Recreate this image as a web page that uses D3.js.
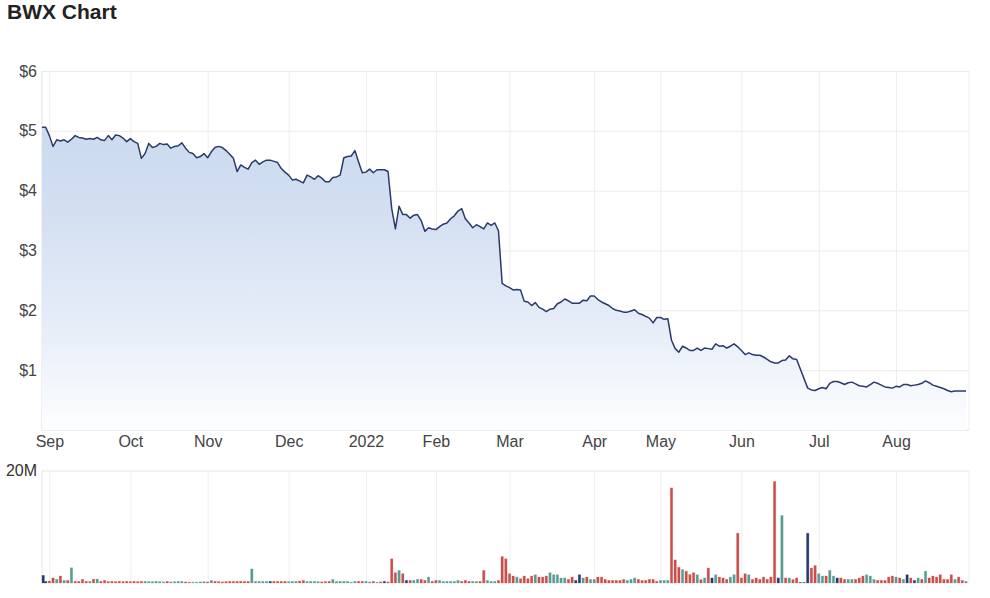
<!DOCTYPE html>
<html>
<head>
<meta charset="utf-8">
<script src="https://cdn.jsdelivr.net/npm/d3@7"></script>
<style>
  body { margin: 0; background: #fff; }
  text { font-family: "Liberation Sans", Arial, sans-serif; }
</style>
</head>
<body>
<svg id="chart" width="990" height="598"></svg>
<script>
// trading days: weekdays from 30 Aug 2021, minus ASX holidays
var startDay = "2021-08-30";
var dayCount = 252;
var holidays = ["2021-12-27", "2021-12-28", "2022-01-03", "2022-01-26", "2022-04-15", "2022-04-18", "2022-04-25", "2022-06-13"];
var monthLabels = ["Sep", "Oct", "Nov", "Dec", "2022", "Feb", "Mar", "Apr", "May", "Jun", "Jul", "Aug"];
var priceTicks = [1, 2, 3, 4, 5, 6];
var volumeTicks = [20];

// daily close ($), null = no trade (halt)
var closePrice = [
  5.06, 5.06, 4.92, 4.74, 4.85, 4.83, 4.85, 4.81, 4.86, 4.92,
  4.89, 4.88, 4.86, 4.87, 4.86, 4.89, 4.85, 4.84, 4.92, 4.85,
  4.93, 4.92, 4.88, 4.82, 4.87, 4.82, 4.79, 4.54, 4.62, 4.79,
  4.72, 4.74, 4.79, 4.77, 4.78, 4.71, 4.74, 4.75, 4.80, 4.71,
  4.64, 4.62, 4.55, 4.57, 4.62, 4.55, 4.65, 4.72, 4.74, 4.72,
  4.67, 4.61, 4.54, 4.32, 4.43, 4.39, 4.36, 4.47, 4.51, 4.44,
  4.48, 4.51, 4.51, 4.49, 4.47, 4.37, 4.31, 4.26, 4.18, 4.19,
  4.16, 4.13, 4.26, 4.23, 4.19, 4.25, 4.21, 4.15, 4.15, 4.22,
  4.23, 4.26, 4.55, 4.57, 4.58, 4.67, 4.48, 4.30, 4.31, 4.36,
  4.30, 4.35, 4.35, 4.35, 4.32, 3.70, 3.36, 3.74, 3.60, 3.60,
  3.54, 3.59, 3.60, 3.50, 3.32, 3.38, 3.36, 3.35, 3.40, 3.44,
  3.46, 3.53, 3.58, 3.66, 3.70, 3.53, 3.46, 3.38, 3.43, 3.40,
  3.36, 3.46, 3.42, 3.46, 3.33, 2.45, 2.41, 2.38, 2.34, 2.35,
  2.34, 2.15, 2.14, 2.08, 2.13, 2.05, 2.02, 1.98, 2.02, 2.03,
  2.11, 2.14, 2.19, 2.16, 2.12, 2.12, 2.12, 2.17, 2.16, 2.24,
  2.24, 2.18, 2.14, 2.11, 2.08, 2.03, 2.00, 1.99, 1.97, 1.97,
  1.99, 2.01, 1.95, 1.93, 1.90, 1.87, 1.79, 1.88, 1.88, 1.85,
  1.86, 1.50, 1.36, 1.30, 1.40, 1.37, 1.33, 1.33, 1.37, 1.33,
  1.37, 1.36, 1.35, 1.44, 1.40, 1.41, 1.37, 1.40, 1.44, 1.39,
  1.33, 1.26, 1.29, 1.26, 1.25, 1.25, 1.22, 1.18, 1.14, 1.12,
  1.12, 1.16, 1.17, 1.24, 1.19, 1.18, null, null, 0.70, 0.67,
  0.66, 0.69, 0.71, 0.69, 0.78, 0.81, 0.81, 0.79, 0.76, 0.79,
  0.80, 0.77, 0.74, 0.73, 0.72, 0.76, 0.80, 0.78, 0.75, 0.72,
  0.71, 0.70, 0.73, 0.72, 0.76, 0.76, 0.74, 0.75, 0.76, 0.78,
  0.82, 0.79, 0.75, 0.73, 0.71, 0.69, 0.66, 0.64, 0.65, 0.65,
  0.65, 0.65
];

// daily volume (millions of shares)
var volumeM = [
  1.36, 0.3, 0.35, 0.9, 0.65, 1.24, 0.47, 0.47, 2.7, 0.3,
  0.3, 0.65, 0.3, 0.3, 0.7, 0.7, 0.3, 0.47, 0.25, 0.3,
  0.25, 0.3, 0.25, 0.3, 0.25, 0.3, 0.25, 0.3, 0.3, 0.25,
  0.25, 0.3, 0.25, 0.2, 0.3, 0.2, 0.25, 0.3, 0.3, 0.2,
  0.15, 0.15, 0.15, 0.2, 0.25, 0.2, 0.47, 0.3, 0.25, 0.2,
  0.25, 0.3, 0.3, 0.3, 0.3, 0.3, 0.3, 2.5, 0.3, 0.3,
  0.3, 0.3, 0.3, 0.3, 0.3, 0.3, 0.3, 0.25, 0.3, 0.3,
  0.35, 0.47, 0.3, 0.3, 0.3, 0.25, 0.2, 0.25, 0.3, 0.65,
  0.3, 0.3, 0.3, 0.3, 0.15, 0.3, 0.3, 0.3, 0.3, 0.2,
  0.3, 0.15, 0.2, 0.3, 0.2, 4.3, 1.83, 2.24, 1.65, 0.47,
  0.47, 0.47, 0.65, 0.65, 0.47, 1.06, 0.3, 0.47, 0.47, 0.3,
  0.3, 0.3, 0.3, 0.47, 0.3, 0.47, 0.3, 0.3, 0.3, 0.3,
  2.24, 0.47, 0.3, 0.3, 0.47, 4.7, 4.3, 1.65, 1.24, 1.06,
  0.77, 1.24, 0.77, 1.24, 1.47, 1.06, 1.06, 1.24, 1.83, 1.47,
  1.47, 0.9, 0.9, 0.65, 1.06, 0.47, 1.47, 0.9, 1.06, 0.65,
  0.65, 1.06, 1.06, 0.65, 0.47, 0.47, 0.47, 0.47, 0.65, 0.47,
  0.65, 0.9, 0.65, 0.47, 0.47, 0.65, 0.65, 0.3, 0.47, 0.47,
  0.47, 16.9, 4.1, 2.8, 2.4, 2.1, 1.5, 1.83, 1.47, 0.6,
  0.9, 2.65, 0.9, 1.47, 1.06, 0.9, 0.65, 1.06, 1.47, 8.85,
  0.9, 1.65, 1.47, 0.65, 0.9, 0.65, 1.06, 0.65, 1.06, 18.05,
  0.9, 12.0, 0.9, 0.9, 0.6, 0.9, 0.1, 0.1, 8.85, 2.65,
  3.1, 1.65, 1.24, 1.24, 2.24, 1.24, 0.9, 0.9, 0.65, 0.65,
  0.65, 0.65, 0.9, 1.24, 1.47, 1.24, 0.65, 0.47, 0.47, 0.47,
  1.06, 1.24, 1.06, 0.9, 0.65, 1.47, 0.9, 0.47, 0.9, 0.65,
  2.1, 0.9, 1.24, 1.06, 1.47, 0.65, 0.65, 1.47, 0.65, 1.06,
  0.47, 0.3
];

// bar colour per day: r = down, g = up, n = unchanged
var volumeDir = (
  "nnrrgrgrgr" + "rrrgrgrrrr" + "rrrrrrrrgg" + "ggggrggggr" + "rggggrgrrr" +
  "rrrrrrrggg" + "ggnrrrrggg" + "rrggggrrrg" + "ggggggrrgg" + "rgrnrrrgrn" +
  "rggrrgrrgg" + "ggggrrrggr" + "rgggrrrrrg" + "rrrrgrrrgg" + "gggrrnngrg" +
  "grrrrrrrrg" + "ggrrrrrrgg" + "grrrgrrrgr" + "grngrrrggr" + "rrgrrrrrrr" +
  "ngrgrrnnnr" + "rggrggnrrg" + "grrrgggrrr" + "rrgrgnrngr" + "grrrrrrrgr" + "rg"
).split("");

var dirColor = { r: "#c9504b", g: "#5a9c93", n: "#263a72" };

// build the trading calendar
var parse = d3.timeParse("%Y-%m-%d"), fmt = d3.timeFormat("%Y-%m-%d");
var days = [];
var d = parse(startDay);
while (days.length < dayCount) {
  var wd = d.getDay();
  if (wd != 0 && wd != 6 && holidays.indexOf(fmt(d)) < 0) days.push(new Date(d));
  d = d3.timeDay.offset(d, 1);
}
var monthStarts = [];
days.forEach(function(day, i) {
  if (i > 0 && day.getMonth() != days[i - 1].getMonth()) monthStarts.push(i);
});

var data = days.map(function(day, i) {
  return { i: i, date: day, close: closePrice[i], vol: volumeM[i], dir: volumeDir[i] };
});

var left = 42, right = 969;
var priceTop = 71, priceBottom = 430;
var volTop = 470.5, volBottom = 583;
var labelFont = "'Liberation Sans', Arial, sans-serif";

var svg = d3.select("#chart");

var x = d3.scaleLinear().domain([0, dayCount - 1]).range([left, 966]);
var y = d3.scaleLinear().domain([0, 6]).range([priceBottom, priceTop]);
var yv = d3.scaleLinear().domain([0, 20]).range([volBottom, volTop]);

svg.append("text")
  .attr("x", 7).attr("y", 19)
  .attr("font-size", 21).attr("font-weight", "bold").attr("fill", "#222")
  .text("BWX Chart");

// gradient under the line
var grad = svg.append("defs").append("linearGradient")
  .attr("id", "areaFill").attr("gradientUnits", "userSpaceOnUse")
  .attr("x1", 0).attr("x2", 0).attr("y1", y(5.06)).attr("y2", priceBottom);
grad.append("stop").attr("offset", "0").attr("stop-color", "#cbdaef");
grad.append("stop").attr("offset", "0.3").attr("stop-color", "#d4e0f2");
grad.append("stop").attr("offset", "0.65").attr("stop-color", "#e6edf8");
grad.append("stop").attr("offset", "1").attr("stop-color", "#fdfeff");

// price grid + axes
svg.append("g")
  .attr("transform", "translate(" + left + ",0)")
  .call(d3.axisLeft(y).tickValues(priceTicks).tickSize(-(right - left)).tickFormat(function(v) { return "$" + v; }))
  .call(function(g) {
    g.select(".domain").remove();
    g.selectAll("line").attr("stroke", "#ebebeb");
    g.selectAll("text").attr("x", -5).attr("font-size", 16).attr("fill", "#444").attr("font-family", labelFont);
  });

svg.append("g")
  .attr("transform", "translate(0," + priceBottom + ")")
  .call(d3.axisBottom(x).tickValues(monthStarts).tickSize(-(priceBottom - priceTop)).tickPadding(6)
    .tickFormat(function(v, k) { return monthLabels[k]; }))
  .call(function(g) {
    g.select(".domain").remove();
    g.selectAll("line").attr("stroke", "#ededed");
    g.selectAll("text").attr("font-size", 16).attr("fill", "#444").attr("font-family", labelFont);
  });

svg.append("line").attr("x1", left).attr("x2", left).attr("y1", priceTop).attr("y2", priceBottom).attr("stroke", "#e2e2e2");
svg.append("line").attr("x1", right).attr("x2", right).attr("y1", priceTop).attr("y2", priceBottom).attr("stroke", "#efefef");
svg.append("line").attr("x1", left).attr("x2", right).attr("y1", priceBottom).attr("y2", priceBottom).attr("stroke", "#dcdcdc");

var traded = data.filter(function(p) { return p.close != null; });

svg.append("path")
  .datum(traded)
  .attr("fill", "url(#areaFill)")
  .attr("d", d3.area().x(function(p) { return x(p.i); }).y0(priceBottom).y1(function(p) { return y(p.close); }));

svg.append("path")
  .datum(traded)
  .attr("fill", "none")
  .attr("stroke", "#2b3a6b")
  .attr("stroke-width", 1.5)
  .attr("stroke-linejoin", "round")
  .attr("d", d3.line().x(function(p) { return x(p.i); }).y(function(p) { return y(p.close); }));

// volume panel
svg.append("g")
  .attr("transform", "translate(" + left + ",0)")
  .call(d3.axisLeft(yv).tickValues(volumeTicks).tickSize(-(right - left)).tickFormat(function(v) { return v + "M"; }))
  .call(function(g) {
    g.select(".domain").remove();
    g.selectAll("line").attr("stroke", "#e6e6e6");
    g.selectAll("text").attr("x", -5).attr("font-size", 16).attr("fill", "#333").attr("font-family", labelFont);
  });

svg.append("g")
  .attr("transform", "translate(0," + volBottom + ")")
  .call(d3.axisBottom(x).tickValues(monthStarts).tickSize(-(volBottom - volTop)).tickFormat(""))
  .call(function(g) {
    g.select(".domain").remove();
    g.selectAll("line").attr("stroke", "#efefef");
  });

svg.append("line").attr("x1", left).attr("x2", left).attr("y1", volTop).attr("y2", volBottom).attr("stroke", "#e6e6e6");
svg.append("line").attr("x1", right).attr("x2", right).attr("y1", volTop).attr("y2", volBottom).attr("stroke", "#efefef");

var barW = 2.4;
svg.append("g")
  .selectAll("rect")
  .data(data)
  .enter()
  .append("rect")
  .attr("x", function(p) { return Math.max(left, x(p.i) - barW / 2); })
  .attr("y", function(p) { return yv(p.vol); })
  .attr("width", barW)
  .attr("height", function(p) { return volBottom - yv(p.vol); })
  .attr("fill", function(p) { return dirColor[p.dir]; })
  .attr("stroke", function(p) { return dirColor[p.dir]; })
  .attr("stroke-opacity", 0.3)
  .attr("stroke-width", 0.8);
</script>
</body>
</html>
